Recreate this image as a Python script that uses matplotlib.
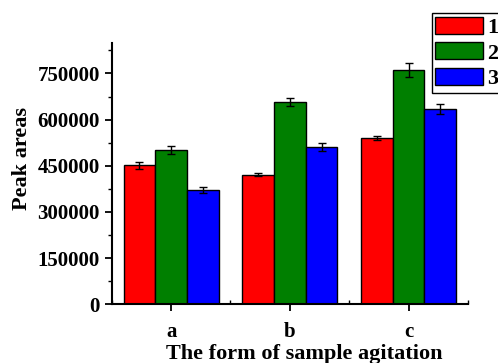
import matplotlib

matplotlib.use("Agg")
import matplotlib.pyplot as plt  # noqa: E402
import numpy as np  # noqa: E402
from matplotlib.ticker import MultipleLocator  # noqa: E402

categories = ["a", "b", "c"]
series_labels = ["1", "2", "3"]
peak_1 = [451000, 421000, 539000]
peak_2 = [501000, 658000, 761000]
peak_3 = [371000, 511000, 635000]
err_1 = [11000, 5500, 6500]
err_2 = [13500, 13500, 21500]
err_3 = [9000, 12000, 15500]

COLORS = ["#ff0000", "#007f00", "#0000ff"]

plt.rcParams["font.family"] = ["Liberation Serif", "DejaVu Serif"]
plt.rcParams["font.weight"] = "bold"

fig = plt.figure(figsize=(4.98, 3.63), dpi=100)
ax = fig.add_axes([0.2243, 0.1617, 0.7155, 0.7207])

x = np.arange(len(categories))
w = 0.267
for k, (vals, errs) in enumerate(zip([peak_1, peak_2, peak_3], [err_1, err_2, err_3])):
    ax.bar(x + (k - 1) * w, vals, width=w, color=COLORS[k], edgecolor="black",
           linewidth=1.0, label=series_labels[k], zorder=2)
    ax.errorbar(x + (k - 1) * w, vals, yerr=errs, fmt="none", ecolor="black",
                elinewidth=1.0, capsize=3, capthick=1.0, zorder=3)

ax.set_xlim(-0.5, 2.5)
ax.set_ylim(0, 850000)
ax.set_xticks(x)
ax.set_xticklabels(categories)
ax.xaxis.set_minor_locator(MultipleLocator(0.5))
ax.yaxis.set_major_locator(MultipleLocator(150000))
ax.yaxis.set_minor_locator(MultipleLocator(75000))
ax.spines["top"].set_visible(False)
ax.spines["right"].set_visible(False)
ax.spines["left"].set_linewidth(1.5)
ax.spines["bottom"].set_linewidth(1.5)
ax.tick_params(axis="both", which="major", labelsize=15, width=1.3, length=5)
ax.tick_params(axis="both", which="minor", width=1.0, length=3)
ax.tick_params(axis="x", which="major", pad=8)
ax.tick_params(axis="x", which="minor", direction="in", length=3)
ax.set_ylabel("Peak areas", fontsize=16, fontweight="bold")
ax.set_xlabel("The form of sample agitation", fontsize=16, fontweight="bold")
ax.yaxis.set_label_coords(-0.225, 0.557)
ax.xaxis.set_label_coords(0.54, -0.152)

leg = fig.legend(loc="upper left", bbox_to_anchor=(0.867, 0.963), fontsize=16,
                 handlelength=2.15, handleheight=0.8, handletextpad=0.2,
                 labelspacing=0.2, borderpad=0.15, borderaxespad=0.0,
                 fancybox=False, framealpha=1, edgecolor="black")
leg.get_frame().set_linewidth(1.0)

fig.savefig("out.png", dpi=100)
